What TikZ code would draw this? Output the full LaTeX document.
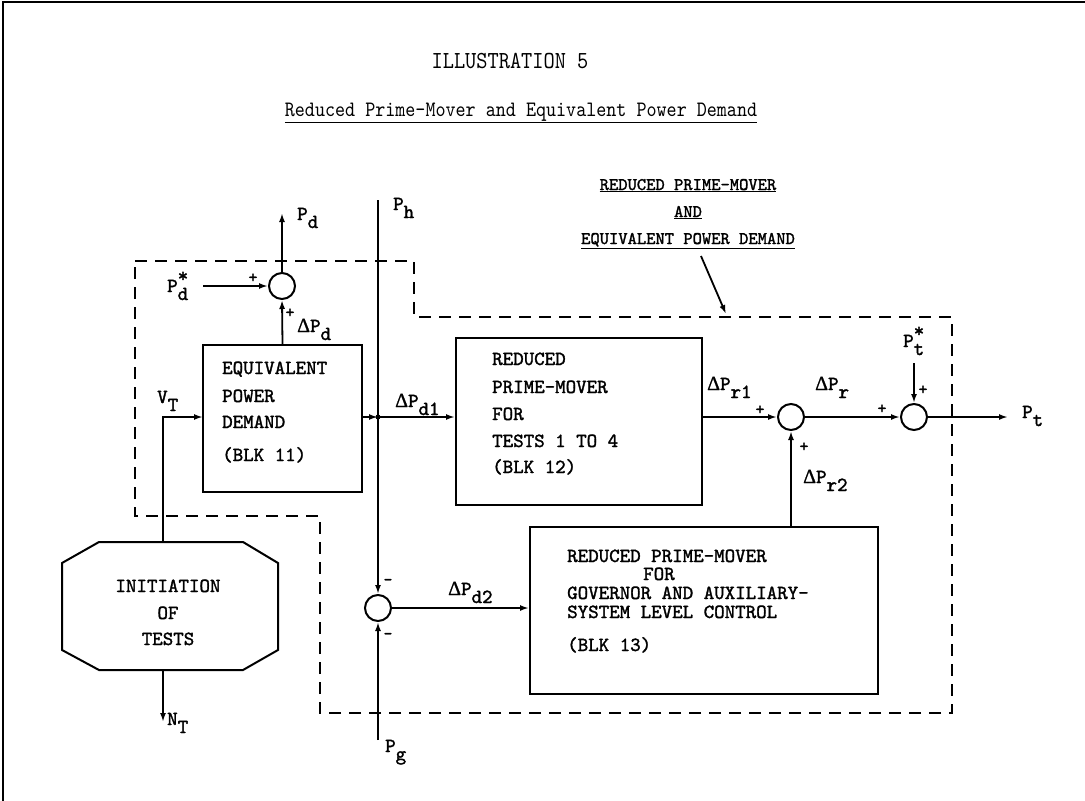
\documentclass[tikz,border=0pt]{standalone}
\usepackage{fontspec}
\usetikzlibrary{arrows.meta}
\newfontfamily\tw[FakeBold=1.6]{lmmono10-regular.otf}
\newfontfamily\ttl[FakeStretch=0.87]{lmmono10-regular.otf}
\newfontfamily\gk[FakeBold=1]{Liberation Serif}
\newcommand\lo[2]{#1\raisebox{-0.4em}{#2}}
\newcommand\los[2]{#1\rlap{\raisebox{0.5em}{*}}\raisebox{-0.4em}{#2}}
\newcommand\D{{\gk Δ}}
\begin{document}
\begin{tikzpicture}[x=1pt,y=-1pt,
  ln/.style={line width=1.8pt},
  arr/.style={ln,-{Latex[length=9pt,width=6pt]}},
  blk/.style={draw,line width=2pt,inner sep=0},
  sj/.style={draw,circle,line width=2pt,minimum size=26pt,inner sep=0},
  bt/.style={anchor=base west,inner sep=0,font=\tw\fontsize{20}{22}\selectfont},
  btc/.style={bt,anchor=base},
  lbl/.style={anchor=base west,inner sep=0,font=\tw\fontsize{20}{22}\selectfont},
  sgn/.style={inner sep=0,font=\tw\fontsize{17}{17}\selectfont},
  bnd/.style={line width=2pt,dash pattern=on 12pt off 8pt},
  ttlf/.style={anchor=base,inner sep=0,font=\ttl\fontsize{22}{24}\selectfont},
  ttlg/.style={anchor=base,inner sep=0,font=\ttl\fontsize{24.5}{26}\selectfont},
  grp/.style={anchor=base,inner sep=0,font=\tw\fontsize{17.7}{18}\selectfont},
]
\useasboundingbox (0,0) rectangle (1085,801);
% page frame
\draw[line width=1.5pt] (3,801) -- (3,2) -- (1085,2);
% titles
\node[ttlg] (t1) at (510,68) {ILLUSTRATION 5};
\node[ttlf] (t2) at (521,116) {\underline{Reduced Prime-Mover and Equivalent Power Demand}};
% group label
\node[grp] (g1) at (688,190) {\underline{REDUCED PRIME-MOVER}};
\node[grp] (g2) at (688,217) {\underline{AND}};
\node[grp] (g3) at (688,244) {\underline{EQUIVALENT POWER DEMAND}};
\coordinate (gp) at (701,256);
\coordinate (gq) at (726,314);
\draw[arr] (gp) -- (gq);
% dashed boundary
\draw[bnd] (135,261) -- (414,261) -- (414,317) -- (952,317) -- (952,713) -- (320,713) -- (320,516) -- (135,516) -- cycle;
% blocks
\node[blk,minimum width=159pt,minimum height=147pt] (b11) at (282.5,418.5) {};
\node[blk,minimum width=246pt,minimum height=167pt] (b12) at (579,421.5) {};
\node[blk,minimum width=348pt,minimum height=167pt] (b13) at (704,610.5) {};
\draw[line width=2pt] (99,542) -- (243,542) -- (278,563) -- (278,650) -- (243,670) -- (99,670) -- (62,650) -- (62,563) -- cycle;
\coordinate (octtop) at (163,542);
\coordinate (octbot) at (163,670);
% block texts
\node[bt] (a1) at (222,374) {EQUIVALENT};
\node[bt] (a2) at (222,402) {POWER};
\node[bt] (a3) at (222,428) {DEMAND};
\node[bt] (a4) at (222,461) {(BLK 11)};
\node[bt] (b1) at (492,365) {REDUCED};
\node[bt] (b2) at (492,393) {PRIME-MOVER};
\node[bt] (b3) at (492,420) {FOR};
\node[bt] (b4) at (492,447) {TESTS 1 TO 4};
\node[bt] (b5) at (492,473) {(BLK 12)};
\node[bt] (c1t) at (567,562) {REDUCED PRIME-MOVER};
\node[bt] (c2t) at (643,580) {FOR};
\node[bt] (c3t) at (567,599) {GOVERNOR AND AUXILIARY-};
\node[bt] (c4t) at (567,618) {SYSTEM LEVEL CONTROL};
\node[bt] (c5t) at (567,651) {(BLK 13)};
\node[btc] (o1) at (168,592) {INITIATION};
\node[btc] (o2) at (168,619) {OF};
\node[btc] (o3) at (168,645) {TESTS};
% summing junctions
\node[sj] (c1) at (282,286) {};
\node[sj] (c2) at (791,417) {};
\node[sj] (c3) at (914,417) {};
\node[sj] (c4) at (378,608) {};
% free ends
\coordinate (pdout) at (282,213);
\coordinate (pdstar) at (203,286);
\coordinate (vtin) at (203,417);
\coordinate (jn) at (378,417);
\coordinate (ph) at (378,200);
\coordinate (pg) at (378,740);
\coordinate (ptstar) at (914,363);
\coordinate (ptout) at (1008,417);
\coordinate (ntout) at (163,722);
% connectors
\draw[arr] (c1.north) -- (pdout);
\draw[arr] (pdstar) -- (c1.west);
\draw[arr] (b11.north) -- (c1.south);
\draw[arr] (octtop) |- (vtin);
\draw[arr] (b11.east |- jn) -- (jn);
\draw[arr] (jn) -- (b12.west |- jn);
\draw[arr] (ph) -- (c4.north);
\fill (jn) circle (2.5pt);
\draw[arr] (b12.east |- c2) -- (c2.west);
\draw[arr] (c2.east) -- (c3.west);
\draw[arr] (b13.north -| c2) -- (c2.south);
\draw[arr] (ptstar) -- (c3.north);
\draw[arr] (c3.east) -- (ptout);
\draw[arr] (c4.east) -- (b13.west |- c4);
\draw[arr] (pg) -- (c4.south);
\draw[arr] (octbot) -- (ntout);
% labels
\node[lbl] (lpd) at (297,220) {\lo{P}{d}};
\node[lbl] (lpds) at (167,292) {\los{P}{d}};
\node[lbl] (ldpd) at (297,332) {\lo{\D P}{d}};
\node[lbl] (lvt) at (157,403) {\lo{V}{T}};
\node[lbl] (lph) at (393,210) {\lo{P}{h}};
\node[lbl] (ldpd1) at (395,407) {\lo{\D P}{d1}};
\node[lbl] (ldpr1) at (707,390) {\lo{\D P}{r1}};
\node[lbl] (ldpr) at (815,390) {\lo{\D P}{r}};
\node[lbl] (lpts) at (903,347) {\los{P}{t}};
\node[lbl] (lpt) at (1022,418) {\lo{P}{t}};
\node[lbl] (ldpr2) at (803,483) {\lo{\D P}{r2}};
\node[lbl] (ldpd2) at (448,595) {\lo{\D P}{d2}};
\node[lbl] (lpg) at (385,752) {\lo{P}{g}};
\node[lbl] (lnt) at (167,725) {\lo{N}{T}};
% signs
\node[sgn] (s1) at (253,278) {+};
\node[sgn] (s2) at (290,313) {+};
\node[sgn] (s3) at (760,410) {+};
\node[sgn] (s4) at (882,409) {+};
\node[sgn] (s5) at (923,390) {+};
\node[sgn] (s6) at (804,447) {+};
\node[sgn] (s7) at (388,582) {-};
\node[sgn] (s8) at (388,636) {-};
\end{tikzpicture}
\end{document}
